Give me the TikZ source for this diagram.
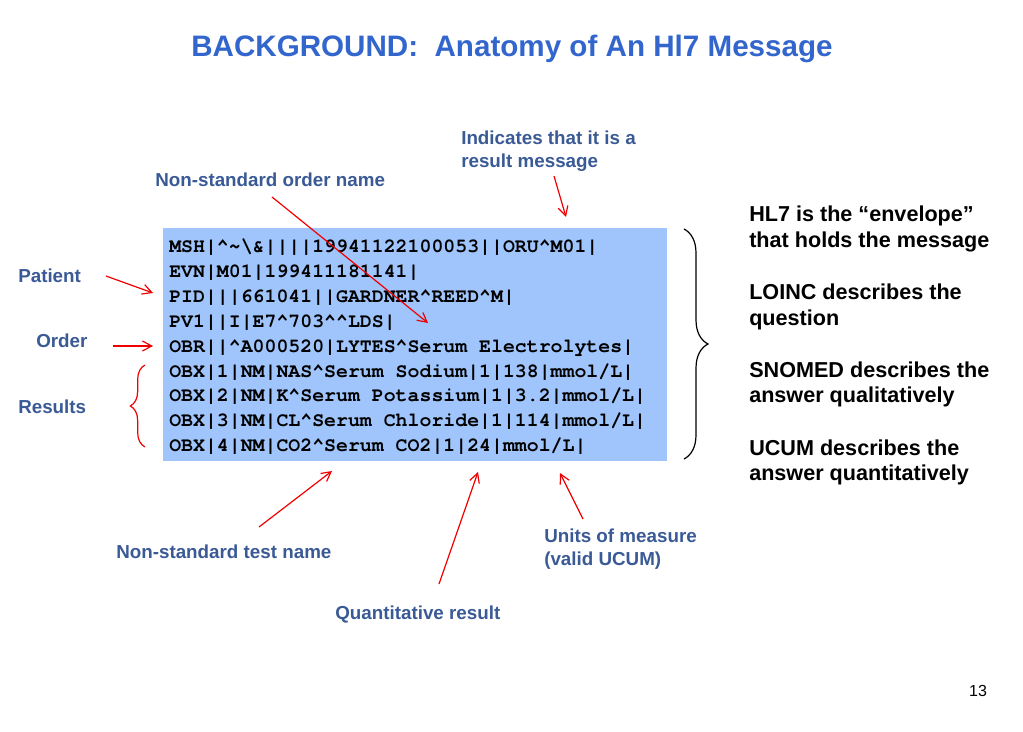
\documentclass[tikz,border=0pt]{standalone}
\usepackage{fontspec}
\setmainfont{Liberation Sans}
\newfontfamily\monof{TeX Gyre Cursor}
\usetikzlibrary{arrows.meta,decorations.pathreplacing}
\definecolor{titleblue}{RGB}{51,102,204}
\definecolor{labelblue}{RGB}{58,90,150}
\definecolor{boxblue}{RGB}{159,197,252}
\definecolor{arrred}{RGB}{240,0,0}
\tikzset{
  lbl/.style={anchor=base west,inner sep=0pt,text=labelblue,font=\bfseries\fontsize{14.1}{16}\selectfont},
  rtxt/.style={anchor=base west,inner sep=0pt,text=black,font=\bfseries\fontsize{16.2}{19}\selectfont},
  mono/.style={anchor=base west,inner sep=0pt,text=black,font=\monof\bfseries\fontsize{14.9}{17}\selectfont},
  redarr/.style={draw=arrred,line width=0.9pt,-{Straight Barb[length=7pt,width=7.5pt]}},
}
\newcommand{\ca}{\textasciicircum}
\begin{document}
\begin{tikzpicture}[x=0.75pt,y=-0.75pt]
\useasboundingbox (0,0) rectangle (1023,731);
% title
\node[anchor=base,inner sep=0pt,text=titleblue,font=\bfseries\fontsize{22.2}{26}\selectfont] (title) at (512,56.5) {BACKGROUND:\ \ Anatomy of An Hl7 Message};
% message box
\node[draw=none,fill=boxblue,anchor=north west,minimum width=504*0.75pt,minimum height=233*0.75pt,inner sep=0pt] (box) at (162.5,227.5) {};
\node[mono] (l1) at (169,252.5) {MSH|\ca\textasciitilde\textbackslash\&||||19941122100053||ORU\ca M01|};
\node[mono] (l2) at (169,277.4) {EVN|M01|199411181141|};
\node[mono] (l3) at (169,302.3) {PID|||661041||GARDNER\ca REED\ca M|};
\node[mono] (l4) at (169,327.2) {PV1||I|E7\ca703\ca\ca LDS|};
\node[mono] (l5) at (169,352.1) {OBR||\ca A000520|LYTES\ca Serum Electrolytes|};
\node[mono] (l6) at (169,377) {OBX|1|NM|NAS\ca Serum Sodium|1|138|mmol/L|};
\node[mono] (l7) at (169,401.9) {OBX|2|NM|K\ca Serum Potassium|1|3.2|mmol/L|};
\node[mono] (l8) at (169,426.8) {OBX|3|NM|CL\ca Serum Chloride|1|114|mmol/L|};
\node[mono] (l9) at (169,451.7) {OBX|4|NM|CO2\ca Serum CO2|1|24|mmol/L|};
% labels
\node[lbl] (ind1) at (461,145) {Indicates that it is a};
\node[lbl] (ind2) at (461,167) {result message};
\node[lbl] (ordname) at (155,186) {Non-standard order name};
\node[lbl] (patient) at (18,282) {Patient};
\node[lbl] (order) at (36,347) {Order};
\node[lbl] (results) at (18,413) {Results};
\node[lbl] (testname) at (116,558) {Non-standard test name};
\node[lbl] (quant) at (335,619) {Quantitative result};
\node[lbl] (units1) at (544,542) {Units of measure};
\node[lbl] (units2) at (544,565) {(valid UCUM)};
% right text
\node[rtxt] (r1) at (749,221.5) {HL7 is the “envelope”};
\node[rtxt] (r2) at (749,247) {that holds the message};
\node[rtxt] (r3) at (749,299.5) {LOINC describes the};
\node[rtxt] (r4) at (749,325) {question};
\node[rtxt] (r5) at (749,377) {SNOMED describes the};
\node[rtxt] (r6) at (749,402.5) {answer qualitatively};
\node[rtxt] (r7) at (749,455) {UCUM describes the};
\node[rtxt] (r8) at (749,480.5) {answer quantitatively};
% page number
\node[anchor=base,inner sep=0pt,font=\fontsize{12}{14}\selectfont] (page) at (978,696) {13};
% arrow coordinates
\coordinate (a1t) at (272,197); \coordinate (a1h) at (428,323);
\coordinate (a2t) at (554,176); \coordinate (a2h) at (566,217);
\coordinate (a3t) at (106,276); \coordinate (a3h) at (153,293);
\coordinate (a4t) at (113,346); \coordinate (a4h) at (153,346);
\coordinate (a5t) at (259,527); \coordinate (a5h) at (332,471);
\coordinate (a6t) at (439,584); \coordinate (a6h) at (478,472);
\coordinate (a7t) at (583,519); \coordinate (a7h) at (560,473);
\draw[redarr] (a1t) -- (a1h);
\draw[redarr] (a2t) -- (a2h);
\draw[redarr] (a3t) -- (a3h);
\draw[redarr] (a4t) -- (a4h);
\draw[redarr] (a5t) -- (a5h);
\draw[redarr] (a6t) -- (a6h);
\draw[redarr] (a7t) -- (a7h);
% braces
\coordinate (b1t) at (684,229); \coordinate (b1b) at (684,459);
\draw[black,line width=0.9pt,decorate,decoration={brace,amplitude=18pt}] (b1t) -- (b1b);
\coordinate (b2t) at (145,365); \coordinate (b2b) at (145,447);
\draw[arrred,line width=0.9pt,decorate,decoration={brace,amplitude=11pt}] (b2b) -- (b2t);
\end{tikzpicture}
\end{document}
